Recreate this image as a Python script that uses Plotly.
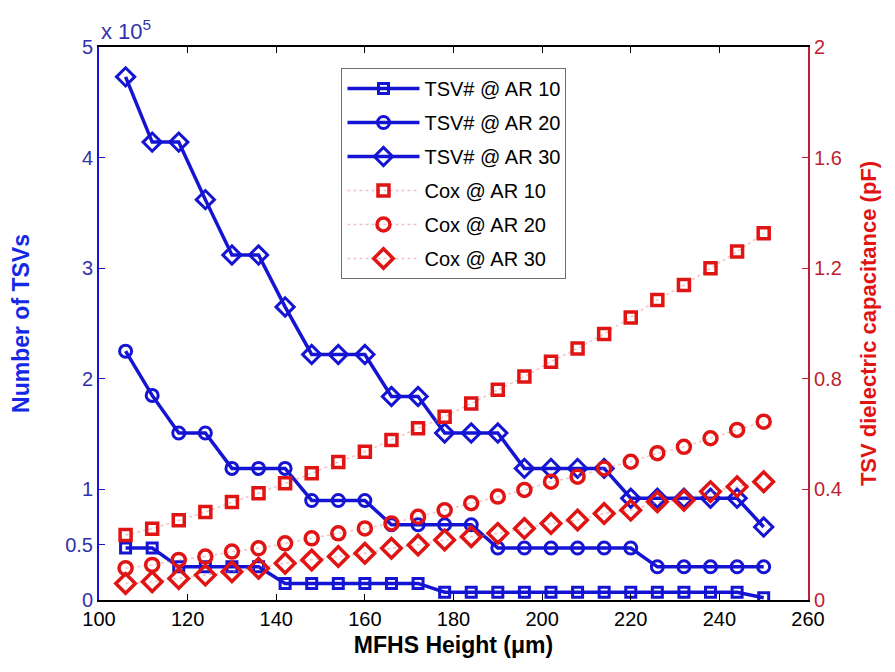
import plotly.graph_objects as go

# MFHS height (um)
height = [106, 112, 118, 124, 130, 136, 142, 148, 154, 160, 166, 172, 178,
          184, 190, 196, 202, 208, 214, 220, 226, 232, 238, 244, 250]

# Number of TSVs
tsv_ar10 = [47000, 47000, 30000, 30000, 30000, 30000, 15000, 15000, 15000, 15000,
            15000, 15000, 7000, 7000, 7000, 7000, 7000, 7000, 7000, 7000, 7000,
            7000, 7000, 7000, 2000]
tsv_ar20 = [225000, 185000, 151000, 151000, 119000, 119000, 119000, 90000, 90000,
            90000, 68000, 68000, 68000, 68000, 47000, 47000, 47000, 47000, 47000,
            47000, 30000, 30000, 30000, 30000, 30000]
tsv_ar30 = [473000, 414000, 414000, 362000, 312000, 312000, 265000, 222000, 222000,
            222000, 184000, 184000, 151000, 151000, 151000, 119000, 119000, 119000,
            119000, 92000, 92000, 92000, 92000, 92000, 66000]

# TSV dielectric capacitance (pF)
cox_ar10 = [0.235, 0.258, 0.288, 0.318, 0.354, 0.386, 0.422, 0.458, 0.499, 0.536,
            0.579, 0.621, 0.663, 0.711, 0.760, 0.808, 0.862, 0.910, 0.962, 1.022,
            1.085, 1.139, 1.200, 1.260, 1.326]
cox_ar20 = [0.115, 0.127, 0.145, 0.157, 0.175, 0.187, 0.205, 0.223, 0.241, 0.259,
            0.277, 0.301, 0.325, 0.350, 0.374, 0.398, 0.428, 0.446, 0.476, 0.500,
            0.531, 0.554, 0.585, 0.615, 0.645]
cox_ar30 = [0.060, 0.066, 0.078, 0.090, 0.102, 0.115, 0.133, 0.145, 0.157, 0.169,
            0.187, 0.199, 0.217, 0.229, 0.241, 0.259, 0.277, 0.289, 0.313, 0.325,
            0.355, 0.361, 0.392, 0.410, 0.428]

x_ticks = [100, 120, 140, 160, 180, 200, 220, 240, 260]
y_ticks = [0, 50000, 100000, 200000, 300000, 400000, 500000]
y_ticktext = ["0", "0.5", "1", "2", "3", "4", "5"]
y2_ticks = [0, 0.4, 0.8, 1.2, 1.6, 2.0]
y2_ticktext = ["0", "0.4", "0.8", "1.2", "1.6", "2"]

BLUE = "rgb(20,20,210)"
RED = "rgb(225,20,20)"
FONT = "Liberation Sans, Arial, sans-serif"

fig = go.Figure()

blue_series = [("TSV# @ AR 10", tsv_ar10, "square-open", 10),
               ("TSV# @ AR 20", tsv_ar20, "circle-open", 12),
               ("TSV# @ AR 30", tsv_ar30, "diamond-open", 14)]
for i, (name, vals, sym, sz) in enumerate(blue_series):
    fig.add_trace(go.Scatter(
        x=height, y=vals, name=name, mode="lines+markers", legendgroup=f"b{i}",
        line=dict(color=BLUE, width=3.5),
        marker=dict(symbol=sym, size=sz, color=BLUE, line=dict(color=BLUE, width=3)),
        yaxis="y"))

red_series = [("Cox @ AR 10", cox_ar10, "square-open", 11),
              ("Cox @ AR 20", cox_ar20, "circle-open", 13),
              ("Cox @ AR 30", cox_ar30, "diamond-open", 15)]
for i, (name, vals, sym, sz) in enumerate(red_series):
    fig.add_trace(go.Scatter(
        x=height, y=vals, name=name, mode="lines+markers", legendgroup=f"r{i}",
        line=dict(color="rgba(225,120,120,0.45)", width=1.5, dash="dot"),
        marker=dict(symbol=sym, size=sz, color=RED, line=dict(color=RED, width=3.5)),
        yaxis="y2"))

# The page body adds an 8px offset, so the figure is 8px smaller on each axis
fig.update_layout(
    width=887, height=664,
    margin=dict(l=91, r=87, t=39, b=72, autoexpand=False),
    plot_bgcolor="white", paper_bgcolor="white",
    font=dict(family=FONT, size=20, color="black"),
    showlegend=True,
    legend=dict(x=0.342, y=0.962, xanchor="left", yanchor="top",
                bgcolor="white", bordercolor="rgb(110,110,110)", borderwidth=1,
                font=dict(family=FONT, size=20, color="black"),
                tracegroupgap=5, itemwidth=72),
    xaxis=dict(range=[100, 260], tickvals=x_ticks, ticks="inside", ticklen=6,
               tickcolor="black", showline=True, linecolor="black", linewidth=2,
               mirror="ticks", showgrid=False, zeroline=False, automargin=False,
               tickfont=dict(family=FONT, size=20, color="black"),
               title=dict(text="<b>MFHS Height (μm)</b>", standoff=8,
                          font=dict(family=FONT, size=23, color="black"))),
    yaxis=dict(range=[0, 500000], tickvals=y_ticks, ticktext=y_ticktext,
               ticks="inside", ticklen=6, tickcolor=BLUE, showline=True,
               linecolor=BLUE, linewidth=2, showgrid=False, zeroline=False,
               automargin=False,
               tickfont=dict(family=FONT, size=20, color="rgb(50,50,170)"),
               title=dict(text="<b>Number of TSVs</b>", standoff=29,
                          font=dict(family=FONT, size=23, color="rgb(20,40,230)"))),
    yaxis2=dict(range=[0, 2], tickvals=y2_ticks, ticktext=y2_ticktext,
                overlaying="y", side="right", ticks="inside", ticklen=6,
                tickcolor="rgb(190,30,50)", showline=True,
                linecolor="rgb(190,30,50)", linewidth=2, showgrid=False,
                zeroline=False, automargin=False,
                tickfont=dict(family=FONT, size=20, color="rgb(190,30,50)"),
                title=dict(text="<b>TSV dielectric capacitance (pF)</b>", standoff=20,
                           font=dict(family=FONT, size=22, color=RED))),
    annotations=[dict(text="x 10<sup>5</sup>", xref="paper", yref="paper",
                      x=0, y=1, xanchor="left", yanchor="bottom", yshift=1,
                      showarrow=False,
                      font=dict(family=FONT, size=22, color="rgb(50,50,170)"))],
)

fig.write_html("out.html")
